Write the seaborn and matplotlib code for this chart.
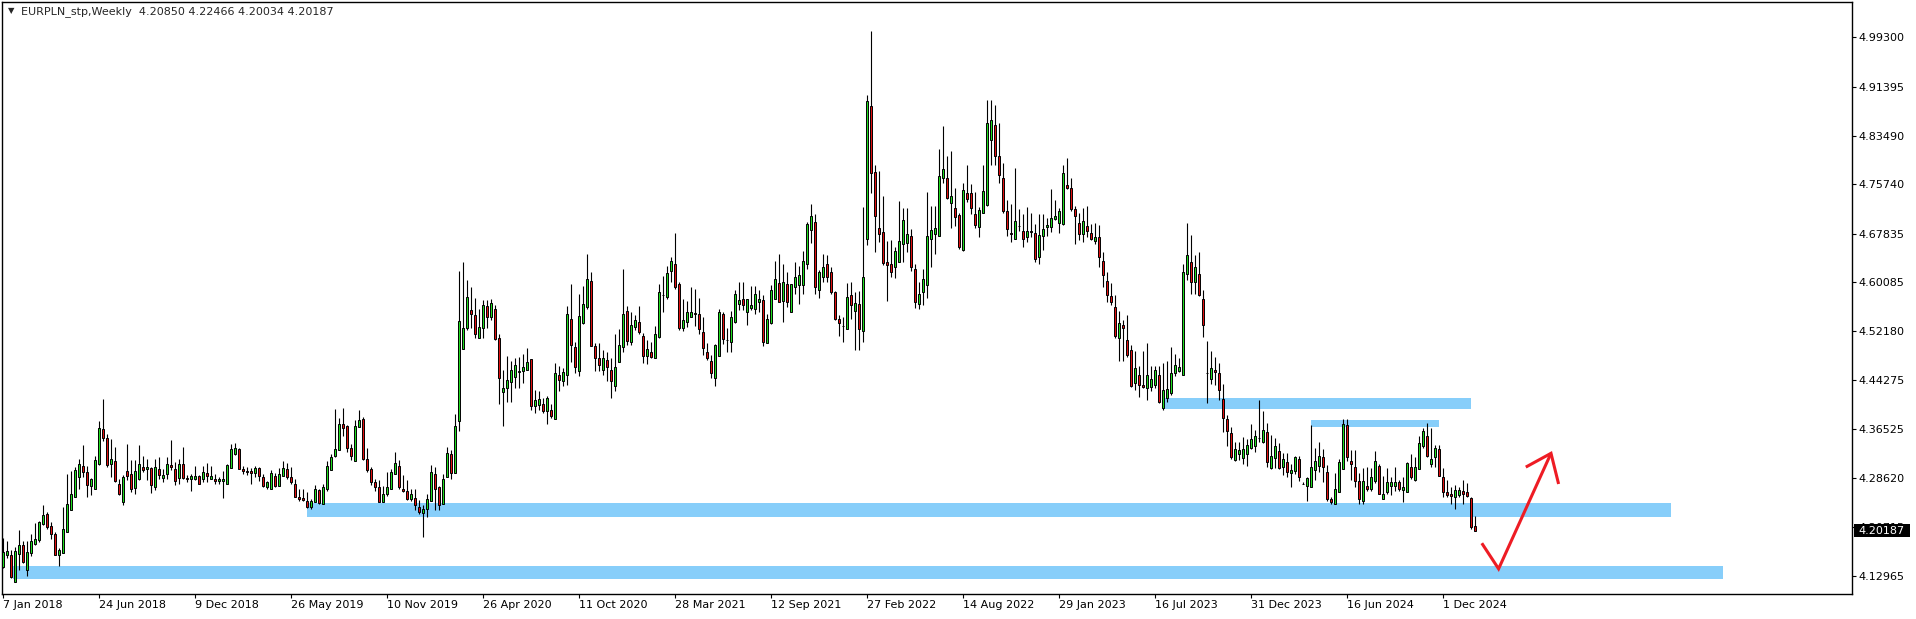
import numpy as np
import pandas as pd
import matplotlib
matplotlib.use("Agg")
import matplotlib.pyplot as plt
from matplotlib.patches import Rectangle
import seaborn as sns

# weekly EURPLN candles, 7 Jan 2018 .. 26 Jan 2025
opens = [
    4.144, 4.163, 4.163, 4.119, 4.164, 4.178, 4.139, 4.166, 4.181, 4.187,
    4.213, 4.228, 4.209, 4.196, 4.163, 4.165, 4.200, 4.234, 4.255, 4.288,
    4.305, 4.296, 4.273, 4.268, 4.309, 4.364, 4.351, 4.308, 4.314, 4.277,
    4.248, 4.297, 4.292, 4.270, 4.284, 4.304, 4.300, 4.302, 4.272, 4.300,
    4.286, 4.292, 4.307, 4.301, 4.286, 4.309, 4.286, 4.285, 4.284, 4.289,
    4.284, 4.294, 4.285, 4.285, 4.282, 4.282, 4.277, 4.302, 4.324, 4.332,
    4.300, 4.297, 4.297, 4.294, 4.302, 4.287, 4.272, 4.269, 4.290, 4.274,
    4.290, 4.300, 4.287, 4.277, 4.255, 4.254, 4.250, 4.240, 4.247, 4.267,
    4.244, 4.268, 4.299, 4.321, 4.331, 4.372, 4.369, 4.334, 4.314, 4.368,
    4.380, 4.316, 4.300, 4.279, 4.272, 4.248, 4.260, 4.269, 4.292, 4.306,
    4.268, 4.265, 4.253, 4.254, 4.240, 4.230, 4.236, 4.250, 4.293, 4.271,
    4.244, 4.288, 4.324, 4.294, 4.378, 4.493, 4.526, 4.555, 4.547, 4.510,
    4.526, 4.562, 4.545, 4.557, 4.510, 4.424, 4.431, 4.440, 4.448, 4.456,
    4.457, 4.460, 4.477, 4.402, 4.403, 4.405, 4.394, 4.395, 4.381, 4.452,
    4.442, 4.452, 4.541, 4.496, 4.458, 4.534, 4.560, 4.602, 4.498, 4.478,
    4.460, 4.475, 4.460, 4.434, 4.473, 4.497, 4.554, 4.505, 4.529, 4.536,
    4.514, 4.482, 4.489, 4.479, 4.513, 4.579, 4.576, 4.619, 4.629, 4.598,
    4.526, 4.537, 4.545, 4.551, 4.549, 4.521, 4.488, 4.474, 4.446, 4.482,
    4.549, 4.507, 4.504, 4.536, 4.566, 4.573, 4.552, 4.559, 4.558, 4.569,
    4.571, 4.502, 4.534, 4.573, 4.599, 4.570, 4.598, 4.553, 4.593, 4.595,
    4.596, 4.630, 4.684, 4.697, 4.588, 4.609, 4.629, 4.617, 4.585, 4.542,
    4.530, 4.525, 4.580, 4.554, 4.565, 4.522, 4.669, 4.883, 4.777, 4.688,
    4.680, 4.633, 4.629, 4.624, 4.633, 4.661, 4.663, 4.674, 4.622, 4.565,
    4.584, 4.596, 4.670, 4.677, 4.675, 4.768, 4.768, 4.727, 4.720, 4.708,
    4.652, 4.744, 4.743, 4.710, 4.689, 4.712, 4.724, 4.828, 4.853, 4.802,
    4.767, 4.715, 4.679, 4.670, 4.690, 4.683, 4.672, 4.682, 4.679, 4.641,
    4.675, 4.689, 4.689, 4.702, 4.696, 4.693, 4.756, 4.752, 4.717, 4.695,
    4.677, 4.691, 4.679, 4.667, 4.672, 4.635, 4.602, 4.578, 4.560, 4.510,
    4.531, 4.507, 4.492, 4.439, 4.451, 4.435, 4.431, 4.432, 4.436, 4.451,
    4.399, 4.415, 4.422, 4.455, 4.457, 4.452, 4.613, 4.632, 4.600, 4.613,
    4.573, 4.455, 4.445, 4.460, 4.454, 4.413, 4.380, 4.359, 4.315, 4.325,
    4.318, 4.324, 4.334, 4.337, 4.350, 4.344, 4.360, 4.302, 4.318, 4.329,
    4.304, 4.311, 4.294, 4.297, 4.316, 4.277, 4.273, 4.272, 4.299, 4.306,
    4.319, 4.295, 4.253, 4.245, 4.264, 4.301, 4.371, 4.313, 4.303, 4.281,
    4.250, 4.273, 4.268, 4.281, 4.306, 4.253, 4.263, 4.273, 4.273, 4.279,
    4.267, 4.263, 4.304, 4.283, 4.300, 4.338, 4.353, 4.309, 4.320, 4.332,
    4.287, 4.263, 4.260, 4.255, 4.259, 4.266, 4.263, 4.254, 4.2085,
]
highs = [
    4.190, 4.185, 4.171, 4.176, 4.202, 4.185, 4.185, 4.197, 4.214, 4.217,
    4.242, 4.231, 4.215, 4.199, 4.173, 4.239, 4.292, 4.297, 4.304, 4.316,
    4.339, 4.306, 4.286, 4.322, 4.377, 4.413, 4.356, 4.349, 4.336, 4.285,
    4.291, 4.341, 4.315, 4.315, 4.339, 4.322, 4.316, 4.304, 4.316, 4.320,
    4.300, 4.320, 4.347, 4.312, 4.317, 4.336, 4.291, 4.292, 4.306, 4.291,
    4.306, 4.310, 4.305, 4.292, 4.288, 4.297, 4.308, 4.340, 4.342, 4.335,
    4.305, 4.304, 4.302, 4.305, 4.303, 4.292, 4.282, 4.299, 4.294, 4.302,
    4.314, 4.310, 4.303, 4.284, 4.268, 4.269, 4.264, 4.253, 4.275, 4.269,
    4.277, 4.313, 4.324, 4.397, 4.382, 4.398, 4.371, 4.341, 4.379, 4.396,
    4.384, 4.335, 4.304, 4.284, 4.283, 4.273, 4.295, 4.300, 4.328, 4.315,
    4.291, 4.283, 4.269, 4.269, 4.251, 4.243, 4.260, 4.307, 4.304, 4.273,
    4.292, 4.336, 4.331, 4.389, 4.618, 4.633, 4.604, 4.593, 4.575, 4.557,
    4.572, 4.571, 4.573, 4.564, 4.517, 4.459, 4.482, 4.474, 4.479, 4.480,
    4.485, 4.494, 4.477, 4.427, 4.425, 4.414, 4.417, 4.405, 4.471, 4.465,
    4.462, 4.562, 4.597, 4.505, 4.581, 4.594, 4.645, 4.616, 4.502, 4.502,
    4.492, 4.489, 4.478, 4.517, 4.525, 4.621, 4.562, 4.552, 4.548, 4.562,
    4.519, 4.508, 4.505, 4.530, 4.598, 4.610, 4.626, 4.641, 4.679, 4.600,
    4.573, 4.570, 4.592, 4.590, 4.575, 4.544, 4.502, 4.484, 4.501, 4.558,
    4.552, 4.526, 4.554, 4.588, 4.600, 4.600, 4.574, 4.594, 4.594, 4.588,
    4.580, 4.550, 4.596, 4.634, 4.646, 4.630, 4.616, 4.598, 4.632, 4.627,
    4.650, 4.697, 4.726, 4.710, 4.620, 4.645, 4.644, 4.625, 4.586, 4.548,
    4.545, 4.599, 4.600, 4.585, 4.586, 4.721, 4.901, 5.003, 4.788, 4.779,
    4.738, 4.666, 4.668, 4.656, 4.730, 4.720, 4.720, 4.685, 4.630, 4.601,
    4.621, 4.745, 4.723, 4.722, 4.814, 4.851, 4.803, 4.810, 4.751, 4.711,
    4.760, 4.788, 4.757, 4.745, 4.721, 4.788, 4.893, 4.893, 4.884, 4.856,
    4.792, 4.732, 4.725, 4.784, 4.718, 4.709, 4.721, 4.712, 4.694, 4.709,
    4.709, 4.704, 4.749, 4.732, 4.719, 4.788, 4.799, 4.768, 4.722, 4.711,
    4.719, 4.722, 4.694, 4.695, 4.692, 4.648, 4.616, 4.599, 4.580, 4.554,
    4.539, 4.547, 4.500, 4.490, 4.466, 4.490, 4.502, 4.466, 4.466, 4.466,
    4.471, 4.474, 4.496, 4.485, 4.479, 4.630, 4.696, 4.676, 4.644, 4.649,
    4.588, 4.506, 4.490, 4.481, 4.470, 4.437, 4.387, 4.368, 4.344, 4.344,
    4.352, 4.348, 4.373, 4.363, 4.411, 4.393, 4.375, 4.355, 4.350, 4.342,
    4.326, 4.327, 4.308, 4.321, 4.321, 4.279, 4.288, 4.371, 4.335, 4.344,
    4.333, 4.307, 4.256, 4.294, 4.316, 4.380, 4.380, 4.331, 4.331, 4.294,
    4.302, 4.304, 4.302, 4.329, 4.308, 4.289, 4.302, 4.288, 4.303, 4.283,
    4.287, 4.311, 4.324, 4.319, 4.353, 4.367, 4.374, 4.366, 4.339, 4.339,
    4.302, 4.283, 4.272, 4.275, 4.272, 4.283, 4.278, 4.255, 4.22466,
]
lows = [
    4.142, 4.157, 4.126, 4.119, 4.138, 4.149, 4.129, 4.161, 4.178, 4.184,
    4.211, 4.205, 4.188, 4.162, 4.145, 4.165, 4.200, 4.234, 4.255, 4.268,
    4.288, 4.255, 4.259, 4.268, 4.307, 4.346, 4.304, 4.288, 4.279, 4.259,
    4.242, 4.283, 4.264, 4.261, 4.283, 4.296, 4.283, 4.262, 4.267, 4.285,
    4.279, 4.285, 4.299, 4.275, 4.277, 4.285, 4.279, 4.265, 4.283, 4.277,
    4.279, 4.279, 4.284, 4.277, 4.276, 4.254, 4.277, 4.302, 4.323, 4.300,
    4.292, 4.291, 4.276, 4.287, 4.282, 4.272, 4.268, 4.269, 4.272, 4.274,
    4.290, 4.285, 4.277, 4.255, 4.250, 4.250, 4.238, 4.236, 4.247, 4.245,
    4.244, 4.266, 4.299, 4.320, 4.331, 4.354, 4.328, 4.315, 4.314, 4.368,
    4.315, 4.296, 4.275, 4.266, 4.248, 4.248, 4.258, 4.269, 4.292, 4.268,
    4.264, 4.251, 4.250, 4.235, 4.229, 4.192, 4.224, 4.250, 4.234, 4.235,
    4.244, 4.287, 4.284, 4.294, 4.362, 4.493, 4.524, 4.526, 4.510, 4.510,
    4.511, 4.526, 4.540, 4.508, 4.405, 4.370, 4.408, 4.408, 4.431, 4.431,
    4.438, 4.459, 4.395, 4.390, 4.395, 4.390, 4.373, 4.383, 4.381, 4.426,
    4.433, 4.435, 4.473, 4.454, 4.449, 4.533, 4.558, 4.498, 4.458, 4.457,
    4.452, 4.441, 4.415, 4.426, 4.473, 4.489, 4.499, 4.499, 4.524, 4.517,
    4.471, 4.469, 4.478, 4.478, 4.510, 4.553, 4.574, 4.600, 4.590, 4.524,
    4.522, 4.529, 4.545, 4.530, 4.517, 4.483, 4.475, 4.446, 4.433, 4.482,
    4.501, 4.488, 4.489, 4.534, 4.556, 4.556, 4.531, 4.555, 4.550, 4.552,
    4.498, 4.502, 4.533, 4.573, 4.568, 4.537, 4.561, 4.553, 4.582, 4.565,
    4.582, 4.621, 4.663, 4.582, 4.575, 4.601, 4.601, 4.581, 4.540, 4.514,
    4.505, 4.525, 4.542, 4.491, 4.491, 4.505, 4.660, 4.743, 4.648, 4.665,
    4.628, 4.570, 4.609, 4.607, 4.633, 4.633, 4.648, 4.618, 4.559, 4.558,
    4.563, 4.575, 4.625, 4.645, 4.675, 4.760, 4.734, 4.688, 4.691, 4.653,
    4.651, 4.729, 4.709, 4.688, 4.672, 4.711, 4.723, 4.788, 4.789, 4.760,
    4.712, 4.675, 4.665, 4.669, 4.683, 4.657, 4.665, 4.673, 4.633, 4.629,
    4.652, 4.675, 4.681, 4.700, 4.679, 4.692, 4.750, 4.715, 4.661, 4.668,
    4.665, 4.673, 4.668, 4.661, 4.625, 4.593, 4.568, 4.564, 4.510, 4.474,
    4.474, 4.481, 4.432, 4.427, 4.416, 4.431, 4.411, 4.425, 4.431, 4.406,
    4.395, 4.408, 4.420, 4.450, 4.456, 4.452, 4.604, 4.582, 4.582, 4.578,
    4.512, 4.407, 4.437, 4.435, 4.411, 4.360, 4.338, 4.316, 4.313, 4.315,
    4.309, 4.306, 4.333, 4.328, 4.344, 4.343, 4.304, 4.301, 4.302, 4.301,
    4.291, 4.288, 4.272, 4.293, 4.282, 4.276, 4.250, 4.271, 4.283, 4.295,
    4.280, 4.250, 4.245, 4.245, 4.264, 4.301, 4.314, 4.283, 4.272, 4.245,
    4.245, 4.266, 4.266, 4.278, 4.260, 4.252, 4.260, 4.259, 4.266, 4.266,
    4.248, 4.263, 4.284, 4.282, 4.300, 4.335, 4.320, 4.304, 4.304, 4.289,
    4.256, 4.255, 4.245, 4.236, 4.256, 4.244, 4.256, 4.205, 4.20034,
]
closes = [
    4.168, 4.169, 4.127, 4.169, 4.178, 4.152, 4.167, 4.185, 4.189, 4.215,
    4.226, 4.207, 4.197, 4.163, 4.170, 4.205, 4.245, 4.261, 4.299, 4.309,
    4.296, 4.275, 4.284, 4.315, 4.366, 4.351, 4.307, 4.316, 4.282, 4.260,
    4.287, 4.290, 4.268, 4.298, 4.308, 4.299, 4.303, 4.275, 4.303, 4.291,
    4.291, 4.308, 4.304, 4.282, 4.309, 4.286, 4.284, 4.289, 4.289, 4.277,
    4.295, 4.289, 4.289, 4.282, 4.284, 4.285, 4.307, 4.332, 4.334, 4.301,
    4.298, 4.296, 4.294, 4.302, 4.289, 4.274, 4.279, 4.294, 4.274, 4.292,
    4.302, 4.287, 4.279, 4.256, 4.253, 4.251, 4.240, 4.250, 4.268, 4.246,
    4.272, 4.305, 4.319, 4.332, 4.372, 4.367, 4.335, 4.321, 4.369, 4.379,
    4.316, 4.299, 4.279, 4.272, 4.248, 4.261, 4.271, 4.295, 4.310, 4.271,
    4.266, 4.253, 4.260, 4.242, 4.232, 4.236, 4.252, 4.295, 4.268, 4.242,
    4.284, 4.326, 4.294, 4.369, 4.538, 4.526, 4.576, 4.550, 4.517, 4.529,
    4.563, 4.544, 4.567, 4.509, 4.447, 4.431, 4.443, 4.459, 4.467, 4.458,
    4.464, 4.473, 4.402, 4.411, 4.413, 4.393, 4.414, 4.386, 4.454, 4.443,
    4.456, 4.549, 4.500, 4.464, 4.546, 4.566, 4.605, 4.498, 4.478, 4.468,
    4.478, 4.464, 4.442, 4.464, 4.499, 4.550, 4.506, 4.531, 4.540, 4.521,
    4.482, 4.493, 4.481, 4.517, 4.584, 4.580, 4.615, 4.635, 4.592, 4.527,
    4.539, 4.552, 4.552, 4.549, 4.525, 4.494, 4.479, 4.455, 4.499, 4.552,
    4.509, 4.507, 4.544, 4.581, 4.571, 4.563, 4.573, 4.563, 4.581, 4.574,
    4.504, 4.542, 4.587, 4.605, 4.569, 4.601, 4.568, 4.597, 4.608, 4.612,
    4.634, 4.693, 4.706, 4.593, 4.617, 4.624, 4.609, 4.584, 4.541, 4.534,
    4.530, 4.577, 4.564, 4.567, 4.525, 4.608, 4.891, 4.776, 4.707, 4.677,
    4.631, 4.628, 4.617, 4.650, 4.666, 4.700, 4.677, 4.625, 4.568, 4.582,
    4.606, 4.674, 4.684, 4.687, 4.771, 4.782, 4.736, 4.738, 4.705, 4.657,
    4.748, 4.733, 4.719, 4.692, 4.716, 4.746, 4.855, 4.860, 4.803, 4.773,
    4.715, 4.685, 4.677, 4.698, 4.691, 4.670, 4.683, 4.680, 4.637, 4.676,
    4.685, 4.692, 4.703, 4.706, 4.714, 4.776, 4.752, 4.718, 4.707, 4.677,
    4.699, 4.683, 4.670, 4.672, 4.641, 4.611, 4.579, 4.569, 4.514, 4.534,
    4.526, 4.483, 4.434, 4.463, 4.436, 4.432, 4.451, 4.445, 4.459, 4.408,
    4.428, 4.429, 4.455, 4.467, 4.464, 4.616, 4.644, 4.600, 4.624, 4.580,
    4.532, 4.454, 4.463, 4.456, 4.427, 4.383, 4.362, 4.319, 4.333, 4.331,
    4.332, 4.339, 4.348, 4.353, 4.350, 4.363, 4.311, 4.322, 4.338, 4.302,
    4.316, 4.296, 4.299, 4.319, 4.287, 4.277, 4.286, 4.304, 4.313, 4.322,
    4.303, 4.253, 4.247, 4.268, 4.311, 4.372, 4.320, 4.308, 4.282, 4.252,
    4.282, 4.269, 4.288, 4.313, 4.261, 4.260, 4.279, 4.279, 4.279, 4.268,
    4.271, 4.310, 4.287, 4.303, 4.342, 4.362, 4.322, 4.316, 4.335, 4.289,
    4.264, 4.259, 4.257, 4.267, 4.267, 4.260, 4.258, 4.208, 4.20187,
]

date_labels = ["7 Jan 2018", "24 Jun 2018", "9 Dec 2018", "26 May 2019",
               "10 Nov 2019", "26 Apr 2020", "11 Oct 2020", "28 Mar 2021",
               "12 Sep 2021", "27 Feb 2022", "14 Aug 2022", "29 Jan 2023",
               "16 Jul 2023", "31 Dec 2023", "16 Jun 2024", "1 Dec 2024"]
price_ticks = [4.99300, 4.91395, 4.83490, 4.75740, 4.67835, 4.60085,
               4.52180, 4.44275, 4.36525, 4.28620, 4.20715, 4.12965]
header = "EURPLN_stp,Weekly  4.20850 4.22466 4.20034 4.20187"
last_price = 4.20187

# drawn zones: (from week, to week, low, high)
zones = [(2.5, 430.0, 4.1246, 4.1449),
         (76.0, 417.0, 4.2240, 4.2465),
         (290.3, 367.0, 4.3966, 4.4147),
         (327.0, 359.0, 4.3674, 4.3792)]

# hand drawn red arrow (week, price)
arrow_x = [369.7, 373.9, 387.0]
arrow_y = [4.1815, 4.1404, 4.3257]
head_x = [380.7, 387.0, 388.9]
head_y = [4.3036, 4.3257, 4.2765]

n = min(len(opens), len(highs), len(lows), len(closes))
print(len(opens), len(highs), len(lows), len(closes))
df = pd.DataFrame({"open": opens[:n], "high": highs[:n],
                   "low": lows[:n], "close": closes[:n]})
df["week"] = np.arange(n)
df["up"] = df["close"] >= df["open"]

sns.set_theme(style="white")
plt.rcParams["font.family"] = ["DejaVu Sans"]

W, H = 1916, 619
fig = plt.figure(figsize=(W / 100, H / 100), dpi=100)
fig.patch.set_facecolor("white")
ax = fig.add_axes([2 / W, 25 / H, 1850 / W, 592 / H])
ax.set_facecolor("white")

for x0, x1, lo, hi in zones:
    ax.add_patch(Rectangle((x0, lo), x1 - x0, hi - lo, facecolor="#87cefa",
                           edgecolor="none", zorder=1))

ax.vlines(df["week"], df["low"], df["high"], color="black", linewidth=0.8, zorder=2)
body_lo = np.minimum(df["open"], df["close"])
body_h = np.maximum((df["close"] - df["open"]).abs(), 0.0002)
colors = np.where(df["up"], "#1fdc1f", "#e01010")
ax.bar(df["week"], body_h, bottom=body_lo, width=0.72, color=colors,
       edgecolor="black", linewidth=0.7, zorder=3)

ax.plot(arrow_x, arrow_y, color="#ee1c24", lw=2.2, zorder=4,
        solid_joinstyle="miter", solid_capstyle="butt")
ax.plot(head_x, head_y, color="#ee1c24", lw=2.2, zorder=4,
        solid_joinstyle="miter", solid_capstyle="butt")

ax.set_xlim(-0.25, 462.25)
ax.set_ylim(4.1000, 5.0498)

for s in ax.spines.values():
    s.set_color("black")
    s.set_linewidth(1.0)
    s.set_visible(True)

ax.yaxis.tick_right()
ax.set_yticks(price_ticks)
ax.set_yticklabels([f"{v:.5f}" for v in price_ticks])
ax.tick_params(axis="y", right=True, left=False, direction="out", length=3,
               width=0.8, pad=1.5, labelsize=8, colors="black")
ax.set_xticks(np.arange(len(date_labels)) * 24)
ax.set_xticklabels(date_labels, ha="left")
ax.tick_params(axis="x", bottom=True, direction="out", length=3, width=0.8,
               pad=1.5, labelsize=8, colors="black")
ax.grid(False)

fig.text(11 / W, 1 - 11 / H, "\u25bc", fontsize=6, ha="center", va="center")
fig.text(21 / W, 1 - 12 / H, header, fontsize=8, ha="left", va="center")

fig.add_artist(Rectangle((1854 / W, 1 - 537 / H), 56 / W, 13.5 / H,
                         transform=fig.transFigure, facecolor="black",
                         edgecolor="none", zorder=5))
fig.text(1858 / W, 1 - 530.5 / H, f"{last_price:.5f}", color="white",
         fontsize=8, ha="left", va="center", zorder=6)

fig.savefig("out.png", dpi=100)
